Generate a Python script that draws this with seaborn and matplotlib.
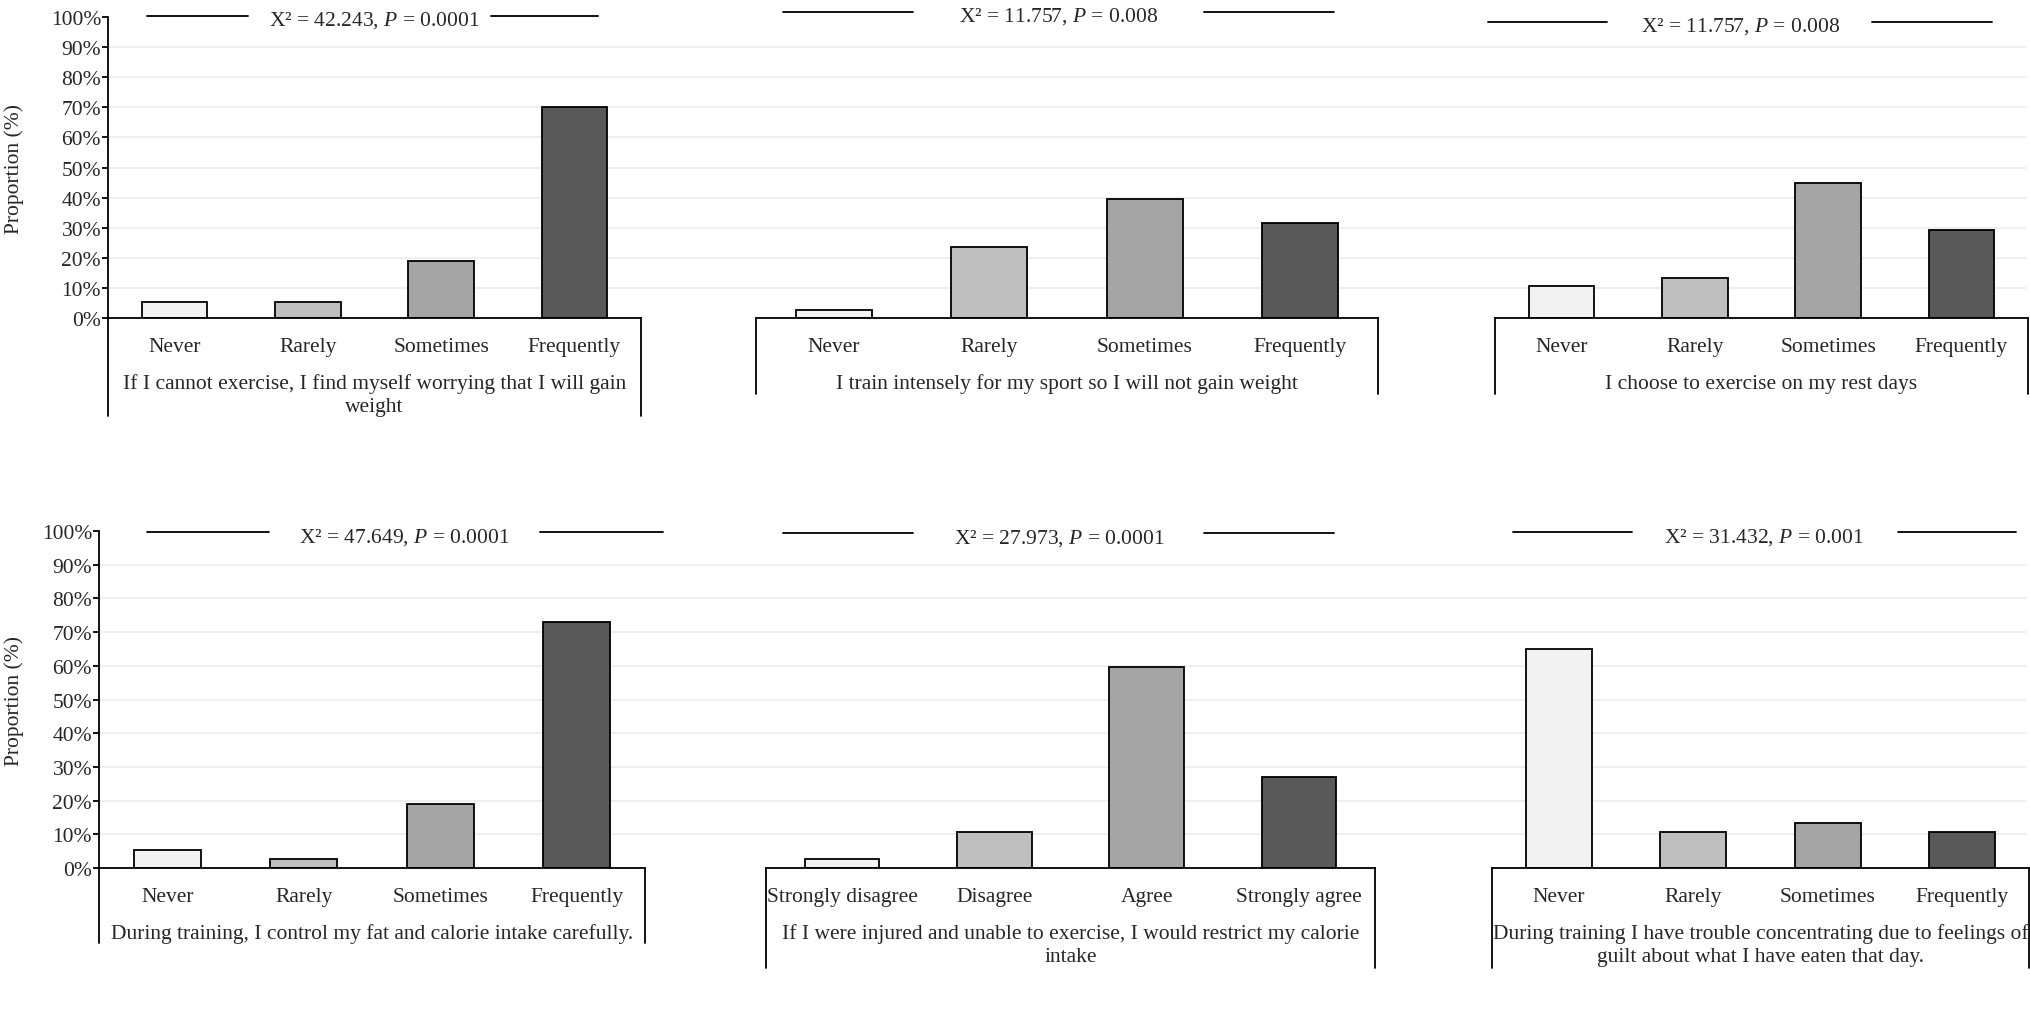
import matplotlib
matplotlib.use("Agg")
import matplotlib.pyplot as plt
import seaborn as sns

# answer levels for the items
freq_levels = ["Never", "Rarely", "Sometimes", "Frequently"]
agree_levels = ["Strongly disagree", "Disagree", "Agree", "Strongly agree"]

questions = [
    "If I cannot exercise, I find myself worrying that I will gain\nweight",
    "I train intensely for my sport so I will not gain weight",
    "I choose to exercise on my rest days",
    "During training, I control my fat and calorie intake carefully.",
    "If I were injured and unable to exercise, I would restrict my calorie\nintake",
    "During training I have trouble concentrating due to feelings of\nguilt about what I have eaten that day.",
]
levels = [freq_levels, freq_levels, freq_levels, freq_levels, agree_levels, freq_levels]

# proportions (%)
worry_gain = [5.4, 5.4, 18.9, 70.2]
train_intense = [2.6, 23.7, 39.6, 31.6]
rest_days = [10.5, 13.2, 45.0, 29.1]
control_intake = [5.4, 2.7, 18.9, 73.0]
restrict_injured = [2.7, 10.8, 59.5, 27.0]
guilt_focus = [64.9, 10.8, 13.5, 10.8]
proportions = [worry_gain, train_intense, rest_days, control_intake, restrict_injured, guilt_focus]

chi_square = ["42.243", "11.757", "11.757", "47.649", "27.973", "31.432"]
p_value = ["0.0001", "0.008", "0.008", "0.0001", "0.0001", "0.001"]

y_ticks = list(range(0, 101, 10))
bar_colors = ["#F2F2F2", "#BFBFBF", "#A5A5A5", "#595959"]

# layout, in pixels of the 2031x1012 figure
W, H = 2031, 1012
rows = [(108, 18, 319), (99, 532, 869)]          # axis x, 100% y, 0% y
panel_x = [(108, 641), (756, 1378), (1495, 2028), (99, 645), (766, 1375), (1492, 2029)]
box_bottom = [417, 395, 395, 944, 969, 969]
# stat line: left line start/end, text x, right line start/end (axes fraction), height (%)
stat_pos = [
    (0.073, 0.263, 0.499, 0.719, 0.919, 100.3),
    (0.043, 0.252, 0.487, 0.720, 0.929, 101.8),
    (-0.013, 0.210, 0.460, 0.707, 0.932, 98.3),
    (0.088, 0.311, 0.559, 0.808, 1.033, 99.6),
    (0.028, 0.241, 0.481, 0.719, 0.933, 99.3),
    (0.039, 0.261, 0.507, 0.756, 0.976, 99.6),
]

sns.set_style("white")
plt.rcParams["font.family"] = ["Liberation Serif", "DejaVu Serif"]
plt.rcParams["mathtext.fontset"] = "custom"
plt.rcParams["mathtext.rm"] = "Liberation Serif"
plt.rcParams["mathtext.it"] = "Liberation Serif:italic"
FS = 15.5
LW = 1.3

fig = plt.figure(figsize=(W / 100, H / 100), dpi=100)

# background axes per row: y axis, tick labels and grid lines
for axis_x, top, zero in rows:
    bg = fig.add_axes([axis_x / W, 1 - zero / H, (2026 - axis_x) / W, (zero - top) / H])
    bg.set_ylim(0, 100)
    bg.set_xlim(0, 1)
    bg.set_xticks([])
    bg.set_yticks(y_ticks)
    bg.set_yticklabels([f"{t}%" for t in y_ticks], fontsize=FS)
    bg.tick_params(axis="y", left=True, length=4, width=LW, pad=1, color="black")
    for t in y_ticks[1:-1]:
        bg.axhline(t, color="#EEEEEE", lw=1.3, zorder=0)
    for s in ["top", "right", "bottom"]:
        bg.spines[s].set_visible(False)
    bg.spines["left"].set_color("black")
    bg.spines["left"].set_linewidth(LW)
    bg.set_ylabel("Proportion (%)", fontsize=FS)
    bg.yaxis.set_label_coords((24 - axis_x) / (2026 - axis_x), 0.5)

for i in range(6):
    axis_x, top, zero = rows[i // 3]
    x0, x1 = panel_x[i]
    ax = fig.add_axes([x0 / W, 1 - zero / H, (x1 - x0) / W, (zero - top) / H])
    ax.patch.set_visible(False)
    sns.barplot(x=levels[i], y=proportions[i], hue=levels[i], palette=bar_colors,
                width=0.49, edgecolor="black", linewidth=LW, legend=False, ax=ax)
    ax.set_xlim(-0.5, 3.5)
    ax.set_ylim(0, 100)
    ax.set_yticks([])
    ax.set_ylabel("")
    ax.tick_params(axis="x", length=0, pad=13.5, labelsize=FS)
    for s in ["top", "right", "left"]:
        ax.spines[s].set_visible(False)
    ax.spines["bottom"].set_color("black")
    ax.spines["bottom"].set_linewidth(LW)

    # outer box of the category axis
    depth = -(box_bottom[i] - zero) / (zero - top)
    tr = ax.get_xaxis_transform()
    for xe in (-0.5, 3.5):
        ax.plot([xe, xe], [0, depth], transform=tr, clip_on=False, color="black", lw=LW)
    ax.annotate(questions[i], xy=(1.5, 0), xycoords=tr, xytext=(0, -40),
                textcoords="offset points", ha="center", va="top",
                fontsize=FS, linespacing=1.25)

    # chi-square label with lines
    a, b, tx, c, d, yl = stat_pos[i]
    yf = yl / 100
    ax.plot([a, b], [yf, yf], transform=ax.transAxes, clip_on=False, color="black", lw=LW)
    ax.plot([c, d], [yf, yf], transform=ax.transAxes, clip_on=False, color="black", lw=LW)
    ax.text(tx, yf - 0.012, f"X² = {chi_square[i]}, $\\mathit{{P}}$ = {p_value[i]}",
            transform=ax.transAxes, ha="center", va="center", fontsize=FS)

fig.savefig("out.png", dpi=100)
